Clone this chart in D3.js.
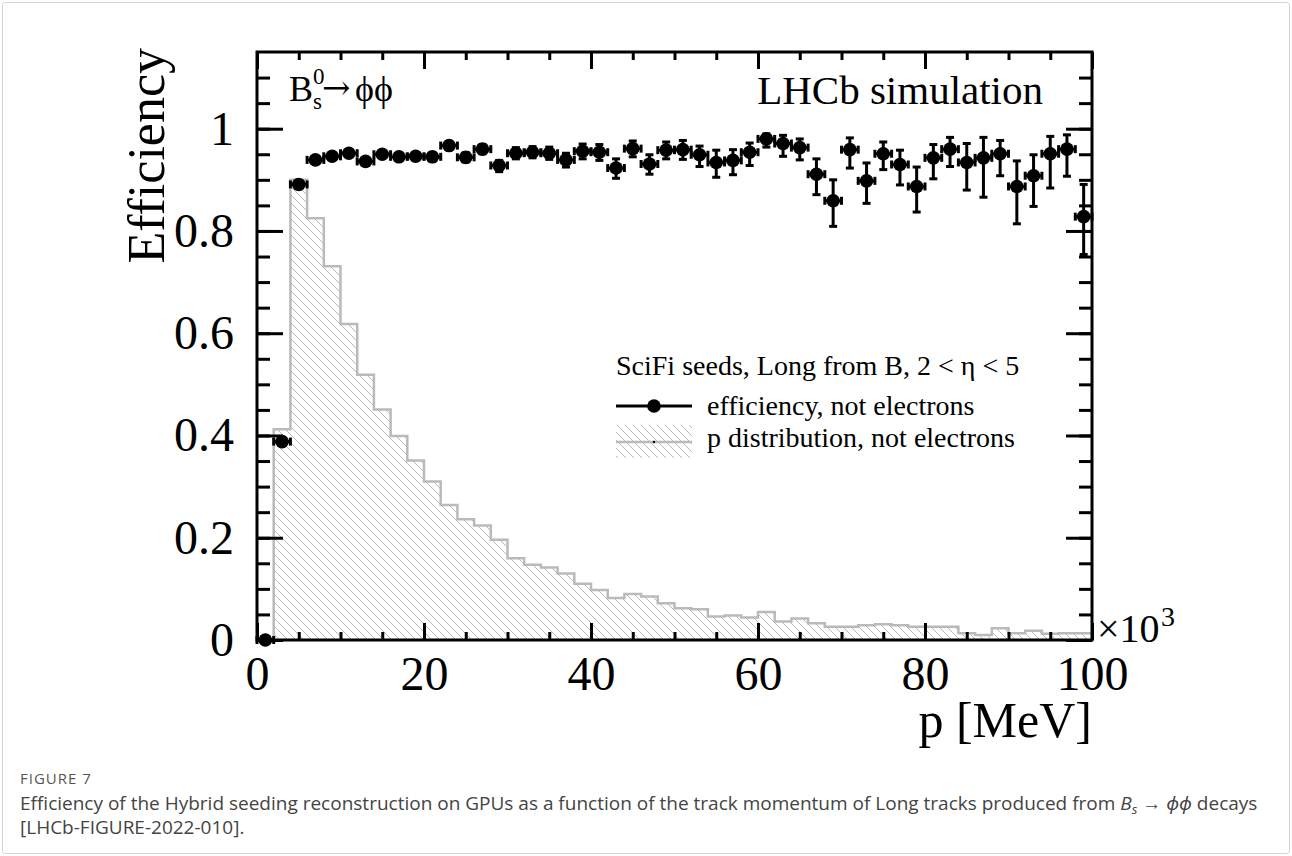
<!DOCTYPE html>
<html>
<head>
<meta charset="utf-8">
<script src="https://cdn.jsdelivr.net/npm/d3@7"></script>
<style>
  html, body { margin: 0; padding: 0; background: #fff; }
  svg { display: block; }
  .serif { font-family: "Liberation Serif", "Times New Roman", serif; }
  .cap { font-family: "Open Sans", "Noto Sans", sans-serif; }
</style>
</head>
<body>
<svg id="chart" width="1292" height="856"></svg>
<script>
// Momentum bins: 50 bins of 2 GeV (axis in MeV x10^3)
const binLow = d3.range(0, 100, 2);
const binCenters = binLow.map(b => b + 1);

// Normalised p distribution of the tracks (hatched histogram)
const pDist = [
  0.000, 0.412, 0.900, 0.825, 0.731, 0.618, 0.519, 0.451, 0.399, 0.351,
  0.310, 0.264, 0.236, 0.224, 0.196, 0.160, 0.147, 0.142, 0.130, 0.110,
  0.098, 0.082, 0.090, 0.085, 0.072, 0.062, 0.060, 0.046, 0.048, 0.044,
  0.055, 0.036, 0.042, 0.033, 0.026, 0.026, 0.029, 0.031, 0.029, 0.026,
  0.026, 0.026, 0.013, 0.010, 0.023, 0.013, 0.018, 0.012, 0.013, 0.013
];

// Efficiency per bin (not electrons)
const effVals = [
  0.000, 0.388, 0.891, 0.939, 0.946, 0.952, 0.936, 0.950, 0.945, 0.946,
  0.945, 0.967, 0.944, 0.960, 0.928, 0.952, 0.954, 0.952, 0.939, 0.956,
  0.954, 0.923, 0.961, 0.931, 0.958, 0.959, 0.949, 0.934, 0.938, 0.954,
  0.980, 0.971, 0.963, 0.911, 0.859, 0.959, 0.898, 0.951, 0.930, 0.887,
  0.943, 0.960, 0.934, 0.943, 0.951, 0.887, 0.908, 0.951, 0.960, 0.828
];
// Upper / lower uncertainties on the efficiency
const effErrHi = [
  0.000, 0.006, 0.005, 0.005, 0.005, 0.006, 0.006, 0.006, 0.007, 0.007,
  0.008, 0.008, 0.009, 0.009, 0.010, 0.011, 0.011, 0.012, 0.013, 0.014,
  0.015, 0.018, 0.015, 0.018, 0.016, 0.018, 0.017, 0.024, 0.021, 0.018,
  0.010, 0.016, 0.017, 0.030, 0.041, 0.023, 0.035, 0.023, 0.028, 0.038,
  0.026, 0.023, 0.037, 0.040, 0.026, 0.050, 0.041, 0.034, 0.028, 0.063
];
const effErrLo = [
  0.000, 0.006, 0.005, 0.005, 0.005, 0.006, 0.006, 0.006, 0.007, 0.007,
  0.008, 0.008, 0.009, 0.009, 0.012, 0.011, 0.011, 0.012, 0.014, 0.015,
  0.016, 0.020, 0.016, 0.020, 0.017, 0.019, 0.023, 0.029, 0.028, 0.026,
  0.016, 0.025, 0.024, 0.040, 0.050, 0.036, 0.044, 0.031, 0.040, 0.050,
  0.041, 0.034, 0.054, 0.077, 0.043, 0.073, 0.060, 0.067, 0.053, 0.074
];

// Axis ticks and labels
const xMajorTicks = [0, 20, 40, 60, 80, 100];
const xTickLabels = ["0", "20", "40", "60", "80", "100"];
const xMinorTicks = d3.range(0, 101, 5);
const yMajorTicks = [0, 0.2, 0.4, 0.6, 0.8, 1.0];
const yTickLabels = ["0", "0.2", "0.4", "0.6", "0.8", "1"];
const yMinorTicks = d3.range(0, 23).map(i => +(i * 0.05).toFixed(2));

const svg = d3.select("#chart");

// Page frame
svg.append("rect")
  .attr("x", 2.5).attr("y", 2.5).attr("width", 1287).attr("height", 851)
  .attr("rx", 3).attr("fill", "#fff").attr("stroke", "#d4d4d4").attr("stroke-width", 1);

const plot = { left: 257, right: 1092, top: 52, bottom: 640 };
const x = d3.scaleLinear().domain([0, 100]).range([plot.left, plot.right]);
const y = d3.scaleLinear().domain([0, 1.15]).range([plot.bottom, plot.top]);

// Hatch pattern for the p distribution
const defs = svg.append("defs");
const hatch = defs.append("pattern")
  .attr("id", "hatch").attr("patternUnits", "userSpaceOnUse")
  .attr("width", 8).attr("height", 8);
hatch.append("path")
  .attr("d", "M-2,-2 L10,10 M-2,6 L2,10 M6,-2 L10,2")
  .attr("stroke", "#b8b8b8").attr("stroke-width", 1).attr("fill", "none");

// Stepped histogram outline built from the bins
const stepPts = [];
binLow.forEach((lo, i) => {
  stepPts.push([lo, pDist[i]]);
  stepPts.push([lo + 2, pDist[i]]);
});
const area = d3.area().x(d => x(d[0])).y0(y(0)).y1(d => y(d[1]));
const line = d3.line().x(d => x(d[0])).y(d => y(d[1]));

svg.append("path").datum(stepPts)
  .attr("d", area).attr("fill", "url(#hatch)");
svg.append("path").datum([[0, 0], ...stepPts, [100, 0]])
  .attr("d", line).attr("fill", "none")
  .attr("stroke", "#bababa").attr("stroke-width", 2.5).attr("stroke-linejoin", "miter");

// Axes: ticks on all four sides, pointing inward
function axisGroup(axis, transform) {
  const g = svg.append("g").attr("transform", transform).call(axis);
  g.select(".domain").remove();
  g.selectAll(".tick line").attr("stroke", "#000").attr("stroke-width", 3);
  return g;
}
const fmtX = d => xTickLabels[xMajorTicks.indexOf(d)];
const fmtY = d => yTickLabels[yMajorTicks.findIndex(v => Math.abs(v - d) < 1e-9)];
const labelSize = 48;

// bottom
axisGroup(d3.axisBottom(x).tickValues(xMinorTicks).tickSize(-8).tickFormat(""), `translate(0,${plot.bottom})`);
const gxb = axisGroup(d3.axisBottom(x).tickValues(xMajorTicks).tickSize(-17).tickPadding(16).tickFormat(fmtX),
  `translate(0,${plot.bottom})`);
gxb.selectAll("text").attr("class", "serif").attr("font-size", labelSize).attr("fill", "#000");
// top
axisGroup(d3.axisTop(x).tickValues(xMinorTicks).tickSize(-8).tickFormat(""), `translate(0,${plot.top})`);
axisGroup(d3.axisTop(x).tickValues(xMajorTicks).tickSize(-17).tickFormat(""), `translate(0,${plot.top})`);
// left
axisGroup(d3.axisLeft(y).tickValues(yMinorTicks).tickSize(-13).tickFormat(""), `translate(${plot.left},0)`);
const gyl = axisGroup(d3.axisLeft(y).tickValues(yMajorTicks).tickSize(-26).tickPadding(23).tickFormat(fmtY),
  `translate(${plot.left},0)`);
gyl.selectAll("text").attr("class", "serif").attr("font-size", labelSize).attr("fill", "#000");
// right
axisGroup(d3.axisRight(y).tickValues(yMinorTicks).tickSize(-13).tickFormat(""), `translate(${plot.right},0)`);
axisGroup(d3.axisRight(y).tickValues(yMajorTicks).tickSize(-26).tickFormat(""), `translate(${plot.right},0)`);

// Frame
svg.append("rect")
  .attr("x", plot.left).attr("y", plot.top)
  .attr("width", plot.right - plot.left).attr("height", plot.bottom - plot.top)
  .attr("fill", "none").attr("stroke", "#000").attr("stroke-width", 3);

// Efficiency points with error bars
const pts = binCenters.map((c, i) => ({ c, v: effVals[i], hi: effErrHi[i], lo: effErrLo[i] }));
const cap = 4;
const eg = svg.append("g").attr("stroke", "#000").attr("stroke-width", 3);
pts.forEach(p => {
  const cx = x(p.c), cy = y(p.v);
  const xl = x(p.c - 1), xr = x(p.c + 1);
  const yt = y(p.v + p.hi), yb = y(p.v - p.lo);
  eg.append("line").attr("x1", xl).attr("x2", xr).attr("y1", cy).attr("y2", cy);
  eg.append("line").attr("x1", xl).attr("x2", xl).attr("y1", cy - cap).attr("y2", cy + cap);
  eg.append("line").attr("x1", xr).attr("x2", xr).attr("y1", cy - cap).attr("y2", cy + cap);
  if (p.hi > 0) {
    eg.append("line").attr("x1", cx).attr("x2", cx).attr("y1", yt).attr("y2", yb);
    eg.append("line").attr("x1", cx - cap).attr("x2", cx + cap).attr("y1", yt).attr("y2", yt);
    eg.append("line").attr("x1", cx - cap).attr("x2", cx + cap).attr("y1", yb).attr("y2", yb);
  }
});
svg.append("g").selectAll("circle").data(pts).join("circle")
  .attr("cx", d => x(d.c)).attr("cy", d => y(d.v)).attr("r", 6.8).attr("fill", "#000");

// Axis titles
svg.append("text").attr("class", "serif")
  .attr("transform", `translate(164,48) rotate(-90)`)
  .attr("text-anchor", "end").attr("font-size", 52).text("Efficiency");
svg.append("text").attr("class", "serif")
  .attr("x", plot.right).attr("y", 737)
  .attr("text-anchor", "end").attr("font-size", 50).text("p [MeV]");

// x10^3 exponent
svg.append("text").attr("class", "serif").attr("x", 1097).attr("y", 642)
  .attr("font-size", 40).text("\u00d710");
svg.append("text").attr("class", "serif").attr("x", 1161).attr("y", 626)
  .attr("font-size", 28).text("3");

// Decay label
svg.append("text").attr("class", "serif").attr("x", 289).attr("y", 101).attr("font-size", 36).text("B");
svg.append("text").attr("class", "serif").attr("x", 313).attr("y", 84).attr("font-size", 23).text("0");
svg.append("text").attr("class", "serif").attr("x", 313).attr("y", 109).attr("font-size", 23).text("s");
svg.append("text").attr("x", 322).attr("y", 99).attr("font-size", 34)
  .attr("font-family", "DejaVu Serif").attr("font-weight", 300).text("\u2192");
svg.append("text").attr("class", "serif").attr("x", 355).attr("y", 101).attr("font-size", 36).text("\u03d5\u03d5");

// Experiment label
svg.append("text").attr("class", "serif")
  .attr("x", 1043).attr("y", 104).attr("text-anchor", "end").attr("font-size", 41)
  .text("LHCb simulation");

// Legend
const lg = svg.append("g");
lg.append("text").attr("class", "serif").attr("x", 616).attr("y", 375).attr("font-size", 28)
  .text("SciFi seeds, Long from B, 2 < \u03b7 < 5");
lg.append("line").attr("x1", 616).attr("x2", 692).attr("y1", 406).attr("y2", 406)
  .attr("stroke", "#000").attr("stroke-width", 3);
lg.append("circle").attr("cx", 654).attr("cy", 406).attr("r", 6.8).attr("fill", "#000");
lg.append("text").attr("class", "serif").attr("x", 707).attr("y", 415).attr("font-size", 28)
  .text("efficiency, not electrons");
lg.append("rect").attr("x", 616).attr("y", 425).attr("width", 76).attr("height", 33)
  .attr("fill", "url(#hatch)");
lg.append("line").attr("x1", 616).attr("x2", 692).attr("y1", 442).attr("y2", 442)
  .attr("stroke", "#bababa").attr("stroke-width", 2.5);
lg.append("circle").attr("cx", 654).attr("cy", 442).attr("r", 1.2).attr("fill", "#000");
lg.append("text").attr("class", "serif").attr("x", 707).attr("y", 447).attr("font-size", 28)
  .text("p distribution, not electrons");

// Caption
svg.append("text").attr("class", "cap").attr("x", 20).attr("y", 784)
  .attr("font-size", 15).attr("fill", "#555").attr("letter-spacing", 1).text("FIGURE 7");
const c1 = svg.append("text").attr("class", "cap").attr("x", 20).attr("y", 810)
  .attr("font-size", 19).attr("fill", "#444");
c1.append("tspan").text("Efficiency of the Hybrid seeding reconstruction on GPUs as a function of the track momentum of Long tracks produced from ");
c1.append("tspan").attr("font-style", "italic").text("B");
c1.append("tspan").attr("font-style", "italic").attr("font-size", 13).attr("dy", 4).text("s");
c1.append("tspan").attr("dy", -4).text(" \u2192 ");
c1.append("tspan").attr("font-style", "italic").text("\u03d5\u03d5");
c1.append("tspan").text(" decays");
svg.append("text").attr("class", "cap").attr("x", 20).attr("y", 834)
  .attr("font-size", 19).attr("fill", "#444").text("[LHCb-FIGURE-2022-010].");
</script>
</body>
</html>
